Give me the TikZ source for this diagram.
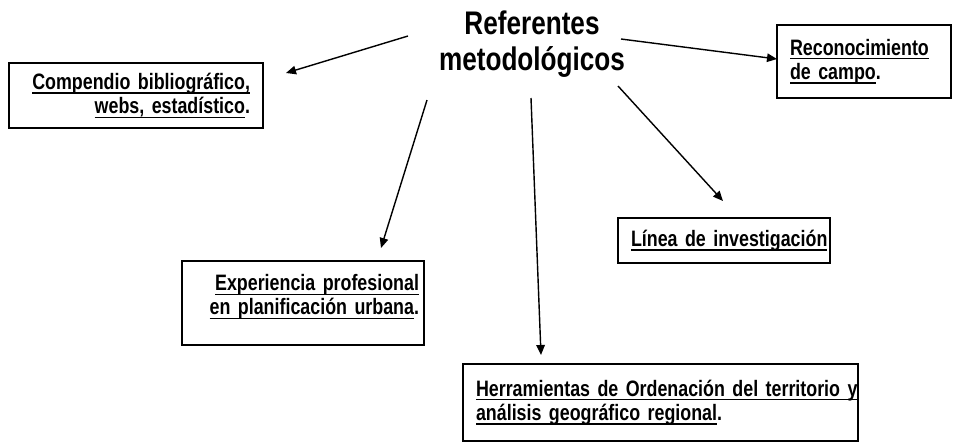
\documentclass[tikz,border=0pt]{standalone}
\usepackage{fontspec}
\setmainfont{Liberation Sans}[FakeStretch=0.80]
\newcommand\subr[1]{\leavevmode\setbox0\hbox{#1}\rlap{\rule[-2.4pt]{\wd0}{0.75pt}}\box0}
\newcommand\espacio{\spaceskip=2.2pt plus 0.5pt\relax}
\usetikzlibrary{arrows.meta,positioning}

\tikzset{
    caja/.style={draw, line width=0.8pt, inner xsep=0.26cm, inner ysep=0pt,
        font=\bfseries\fontsize{12.7}{13.8}\selectfont\espacio},
    flecha/.style={line width=0.8pt, -{Triangle[length=2mm,width=1.7mm]}}
}

\begin{document}
\begin{tikzpicture}[x=0.02cm, y=-0.02cm]
    \useasboundingbox (0,0) rectangle (956,444);
    \node[font=\bfseries\fontsize{18.6}{20.4}\selectfont, align=center] (ref) at (532,44)
        {Referentes\\metodológicos};
    \node[caja, text width=4.56cm, minimum height=1.3cm, align=right] (comp) at (136,95.5)
        {\subr{Compendio bibliográfico,}\\\subr{webs, estadístico}.};
    \node[caja, text width=2.96cm, minimum height=1.46cm, align=left] (reco) at (864,61.5)
        {\subr{Reconocimiento}\\\subr{de campo}.};
    \node[caja, inner xsep=0.1cm, text width=4.64cm, minimum height=1.68cm, align=right] (expe) at (303,303)
        {\subr{Experiencia profesional}\\\subr{en planificación urbana}.\rule[-0.33cm]{0pt}{0.1pt}};
    \node[caja, text width=3.72cm, minimum height=0.9cm, align=left] (line) at (724,240.5)
        {\subr{Línea de investigación}};
    \node[caja, text width=7.38cm, minimum height=1.54cm, align=left] (herr) at (660.5,402.5)
        {\subr{Herramientas de Ordenación del territorio y}\\\subr{análisis geográfico regional}.};
    \coordinate (s1) at (408,36);
    \coordinate (e1) at (286,73);
    \coordinate (s2) at (427,100);
    \coordinate (e2) at (381,248);
    \coordinate (s3) at (531,98);
    \coordinate (e3) at (541,355);
    \coordinate (s4) at (621,39);
    \coordinate (e4) at (777,59);
    \coordinate (s5) at (618,86);
    \coordinate (e5) at (723,201);
    \draw[flecha] (s1) -- (e1);
    \draw[flecha] (s2) -- (e2);
    \draw[flecha] (s3) -- (e3);
    \draw[flecha] (s4) -- (e4);
    \draw[flecha] (s5) -- (e5);
\end{tikzpicture}
\end{document}
